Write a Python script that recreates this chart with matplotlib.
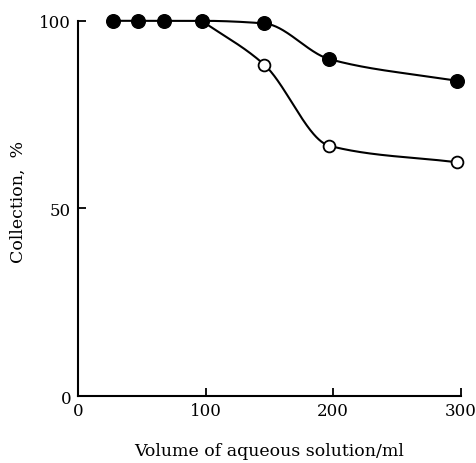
import matplotlib
matplotlib.use('Agg')
import matplotlib.pyplot as plt
import numpy as np

# Data
volume = [27, 47, 67, 97, 146, 197, 297]
collection_filled = [100, 100, 100, 100, 99.3, 89.8, 84]

volume_open = [97, 146, 197, 297]
collection_open = [100, 88.3, 66.7, 62.3]

x_ticks = [0, 100, 200, 300]
y_ticks = [0, 50, 100]


def monotone_curve(x, y, n=300):
    """Fritsch-Carlson monotone cubic through the points (for a smooth hand-drawn look)."""
    x = np.asarray(x, float)
    y = np.asarray(y, float)
    h = np.diff(x)
    d = np.diff(y) / h
    m = np.zeros_like(y)
    m[0], m[-1] = d[0], d[-1]
    for i in range(1, len(y) - 1):
        if d[i - 1] * d[i] <= 0:
            m[i] = 0.0
        else:
            w1 = 2 * h[i] + h[i - 1]
            w2 = h[i] + 2 * h[i - 1]
            m[i] = (w1 + w2) / (w1 / d[i - 1] + w2 / d[i])
    xs = np.linspace(x[0], x[-1], n)
    idx = np.clip(np.searchsorted(x, xs) - 1, 0, len(h) - 1)
    t = (xs - x[idx]) / h[idx]
    h00 = 2 * t**3 - 3 * t**2 + 1
    h10 = t**3 - 2 * t**2 + t
    h01 = -2 * t**3 + 3 * t**2
    h11 = t**3 - t**2
    ys = h00 * y[idx] + h10 * h[idx] * m[idx] + h01 * y[idx + 1] + h11 * h[idx] * m[idx + 1]
    return xs, ys


plt.rcParams['font.family'] = ['DejaVu Serif']

fig = plt.figure(figsize=(4.76, 4.64), dpi=100)
ax = fig.add_axes([0.164, 0.144, 0.804, 0.809])

xs, ys = monotone_curve(volume, collection_filled)
ax.plot(xs, ys, color='black', lw=1.5, zorder=2, clip_on=False)
xs, ys = monotone_curve(volume_open, collection_open)
ax.plot(xs, ys, color='black', lw=1.5, zorder=2, clip_on=False)

ax.plot(volume_open, collection_open, 'o', ms=8.5, mfc='white', mec='black', mew=1.3,
        zorder=3, clip_on=False)
ax.plot(volume, collection_filled, 'o', ms=9.8, mfc='black', mec='black', zorder=4, clip_on=False)

ax.set_xlim(0, 300)
ax.set_ylim(0, 100)
ax.set_xticks(x_ticks)
ax.set_yticks(y_ticks)
ax.spines['top'].set_visible(False)
ax.spines['right'].set_visible(False)
for s in ('left', 'bottom'):
    ax.spines[s].set_linewidth(1.5)
ax.tick_params(direction='in', length=6, width=1.3, labelsize=12, pad=5)
ax.tick_params(axis='x', pad=4)

ax.set_xlabel('Volume of aqueous solution/ml', fontsize=12.5, labelpad=17)
ax.set_ylabel('Collection,  %', fontsize=12.5)
ax.yaxis.set_label_coords(-0.135, 0.52)

fig.savefig('out.png', dpi=100)
